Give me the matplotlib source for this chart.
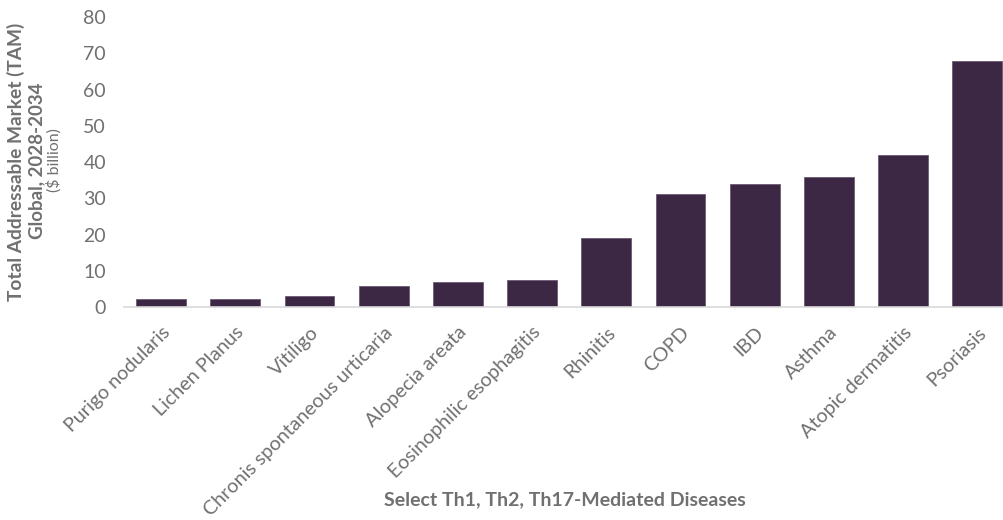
import matplotlib.pyplot as plt
import numpy as np

diseases = ["Purigo nodularis", "Lichen Planus", "Vitiligo",
            "Chronis spontaneous urticaria", "Alopecia areata",
            "Eosinophilic esophagitis", "Rhinitis", "COPD", "IBD",
            "Asthma", "Atopic dermatitis", "Psoriasis"]
tam_billion = [2.2, 2.1, 3.0, 5.8, 7.0, 7.4, 19.0, 31.1, 33.9, 36.0, 41.9, 67.9]
y_ticks = [0, 10, 20, 30, 40, 50, 60, 70, 80]

plt.rcParams['font.family'] = ['Lato', 'DejaVu Sans']

fig = plt.figure(figsize=(10.04, 5.2), dpi=100)
ax = fig.add_axes([0.1235, 0.4096, 0.8765, 0.5577])

x = np.arange(len(diseases))
ax.bar(x, tam_billion, width=0.67, color="#3c2845", edgecolor="#6b5a72",
       linewidth=0.6, zorder=2)

ax.set_xlim(-0.5, 11.36)
ax.set_ylim(0, 80)
ax.set_yticks(y_ticks)
ax.set_xticks(x)
ax.set_xticklabels(diseases, rotation=45, ha="right", rotation_mode="anchor",
                   fontsize=14.2, color="#707070")
ax.tick_params(axis="y", length=0, labelsize=14, labelcolor="#707070", pad=13)
ax.tick_params(axis="x", length=0, pad=12)

for side in ["top", "right", "left"]:
    ax.spines[side].set_visible(False)
ax.spines["bottom"].set_color("#d9d9d9")
ax.spines["bottom"].set_linewidth(1.2)

# three-line y-axis title
fig.text(0.0155, 0.688, "Total Addressable Market (TAM)", rotation=90,
         ha="center", va="center", fontsize=13.8, fontweight="bold", color="#707070")
fig.text(0.0365, 0.690, "Global, 2028-2034", rotation=90,
         ha="center", va="center", fontsize=13.5, fontweight="bold", color="#707070")
fig.text(0.0535, 0.692, "($ billion)", rotation=90,
         ha="center", va="center", fontsize=11.5, color="#707070")

fig.text(0.563, 0.038, "Select Th1, Th2, Th17-Mediated Diseases",
         ha="center", va="center", fontsize=14, fontweight="bold", color="#707070")

fig.savefig("out.png", dpi=100)
